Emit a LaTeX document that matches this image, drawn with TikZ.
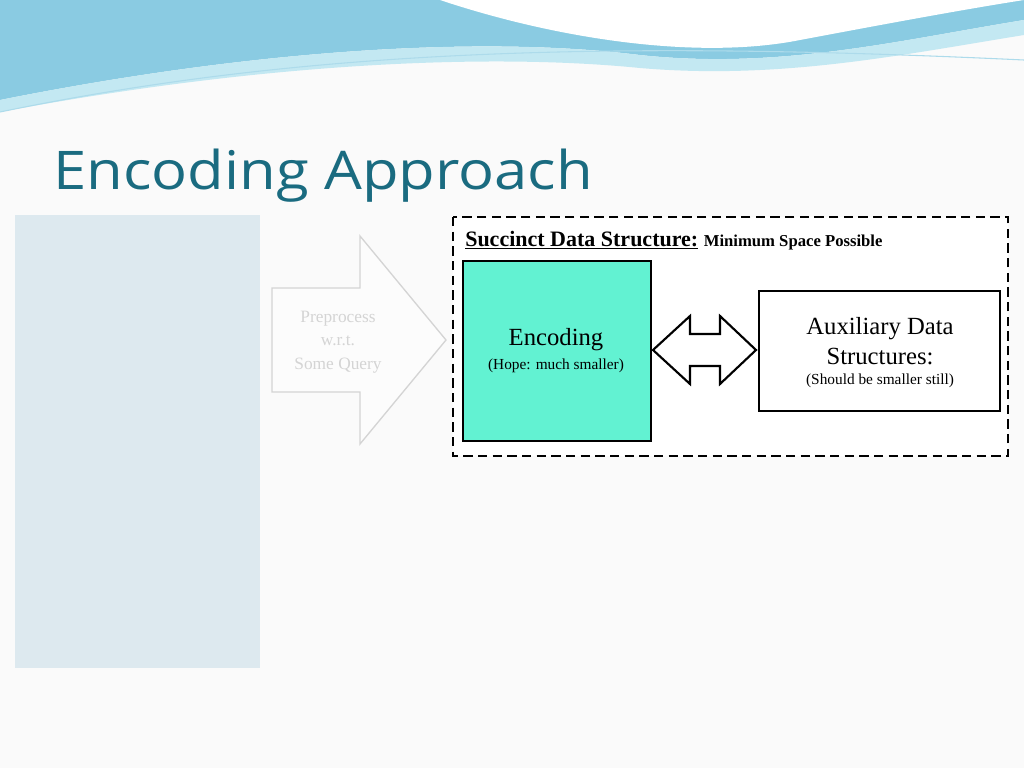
\documentclass[tikz,border=0pt]{standalone}
\usepackage{fontspec}
\setmainfont{Liberation Serif}
\newfontfamily\titlefont{Open Sans}
\definecolor{titleteal}{HTML}{1A6B80}
\definecolor{leftblue}{HTML}{DDE9EF}
\definecolor{encgreen}{HTML}{62F2D2}
\definecolor{fadegray}{HTML}{D4D4D4}
\definecolor{waveA}{HTML}{8ACBE2}
\definecolor{waveB}{HTML}{C3E8F2}
\tikzset{
  boxstyle/.style={draw=black, line width=1.6pt},
  txt/.style={inner sep=0pt, align=center}
}
\begin{document}
\begin{tikzpicture}[x=0.75pt,y=-0.75pt]
\useasboundingbox (0,0) rectangle (1024,768);
\fill[white!96!gray] (0,0) rectangle (1024,768);
% top waves
\fill[waveA] (0,0) -- (1024,0) -- (1024,20) .. controls (900,40) and (780,70) .. (640,55) .. controls (480,35) and (250,50) .. (0,100) -- cycle;
\fill[waveB] (0,100) .. controls (250,50) and (480,35) .. (640,55) .. controls (780,70) and (900,40) .. (1024,20) -- (1024,35) .. controls (900,55) and (780,80) .. (640,68) .. controls (480,52) and (250,65) .. (0,112) -- cycle;
\fill[white] (440,0) .. controls (560,40) and (700,60) .. (800,40) .. controls (880,25) and (960,10) .. (1024,0) -- cycle;
\draw[waveA!70!white, line width=0.8pt] (0,112) .. controls (300,50) and (600,40) .. (1024,60);
% left blue panel
\fill[leftblue] (15,215) rectangle (260,668);
% faded arrow
\draw[fadegray, line width=1pt, fill=white!98!gray] (272,288) -- (360,288) -- (360,236) -- (446,340) -- (360,444) -- (360,392) -- (272,392) -- cycle;
\node[txt, text=fadegray, font=\fontsize{13pt}{17.5pt}\selectfont] (pre) at (338,342) {Preprocess\\w.r.t.\\Some Query};
% title
\node[anchor=base west, inner sep=0pt, text=titleteal, font=\titlefont\fontsize{40pt}{44pt}\selectfont] (title) at (53,189) {\scalebox{1.12}[1]{Encoding Approach}};
% dashed frame
\draw[black, line width=2pt, dash pattern=on 7pt off 4pt, fill=white] (453,217) rectangle (1008,456);
\node[anchor=base west, inner sep=0pt, font=\bfseries\fontsize{16.5pt}{19pt}\selectfont] (sds) at (465,246) {\underline{Succinct Data Structure:} {\fontsize{12.5pt}{14pt}\selectfont Minimum Space Possible}};
% encoding box
\node[boxstyle, fill=encgreen, minimum width=141pt, minimum height=135pt, anchor=north west] (enc) at (462,260) {};
\node[txt, font=\fontsize{18.5pt}{20pt}\selectfont] (enct) at (556,340) {Encoding};
\node[txt, font=\fontsize{11.5pt}{12pt}\selectfont] (encs) at (556,366) {(Hope: much smaller)};
% aux box
\node[boxstyle, fill=white, minimum width=181pt, minimum height=90pt, anchor=north west] (aux) at (758,290) {};
\node[txt, font=\fontsize{18.5pt}{23pt}\selectfont] (auxt) at (880,341) {Auxiliary Data\\Structures:};
\node[txt, font=\fontsize{11.5pt}{12pt}\selectfont] (auxs) at (880,381) {(Should be smaller still)};
% double arrow
\draw[black, line width=1.6pt, fill=white, line join=miter] (653,350) -- (690,316) -- (690,334) -- (720,334) -- (720,316) -- (756,350) -- (720,384) -- (720,366) -- (690,366) -- (690,384) -- cycle;
\end{tikzpicture}
\end{document}
